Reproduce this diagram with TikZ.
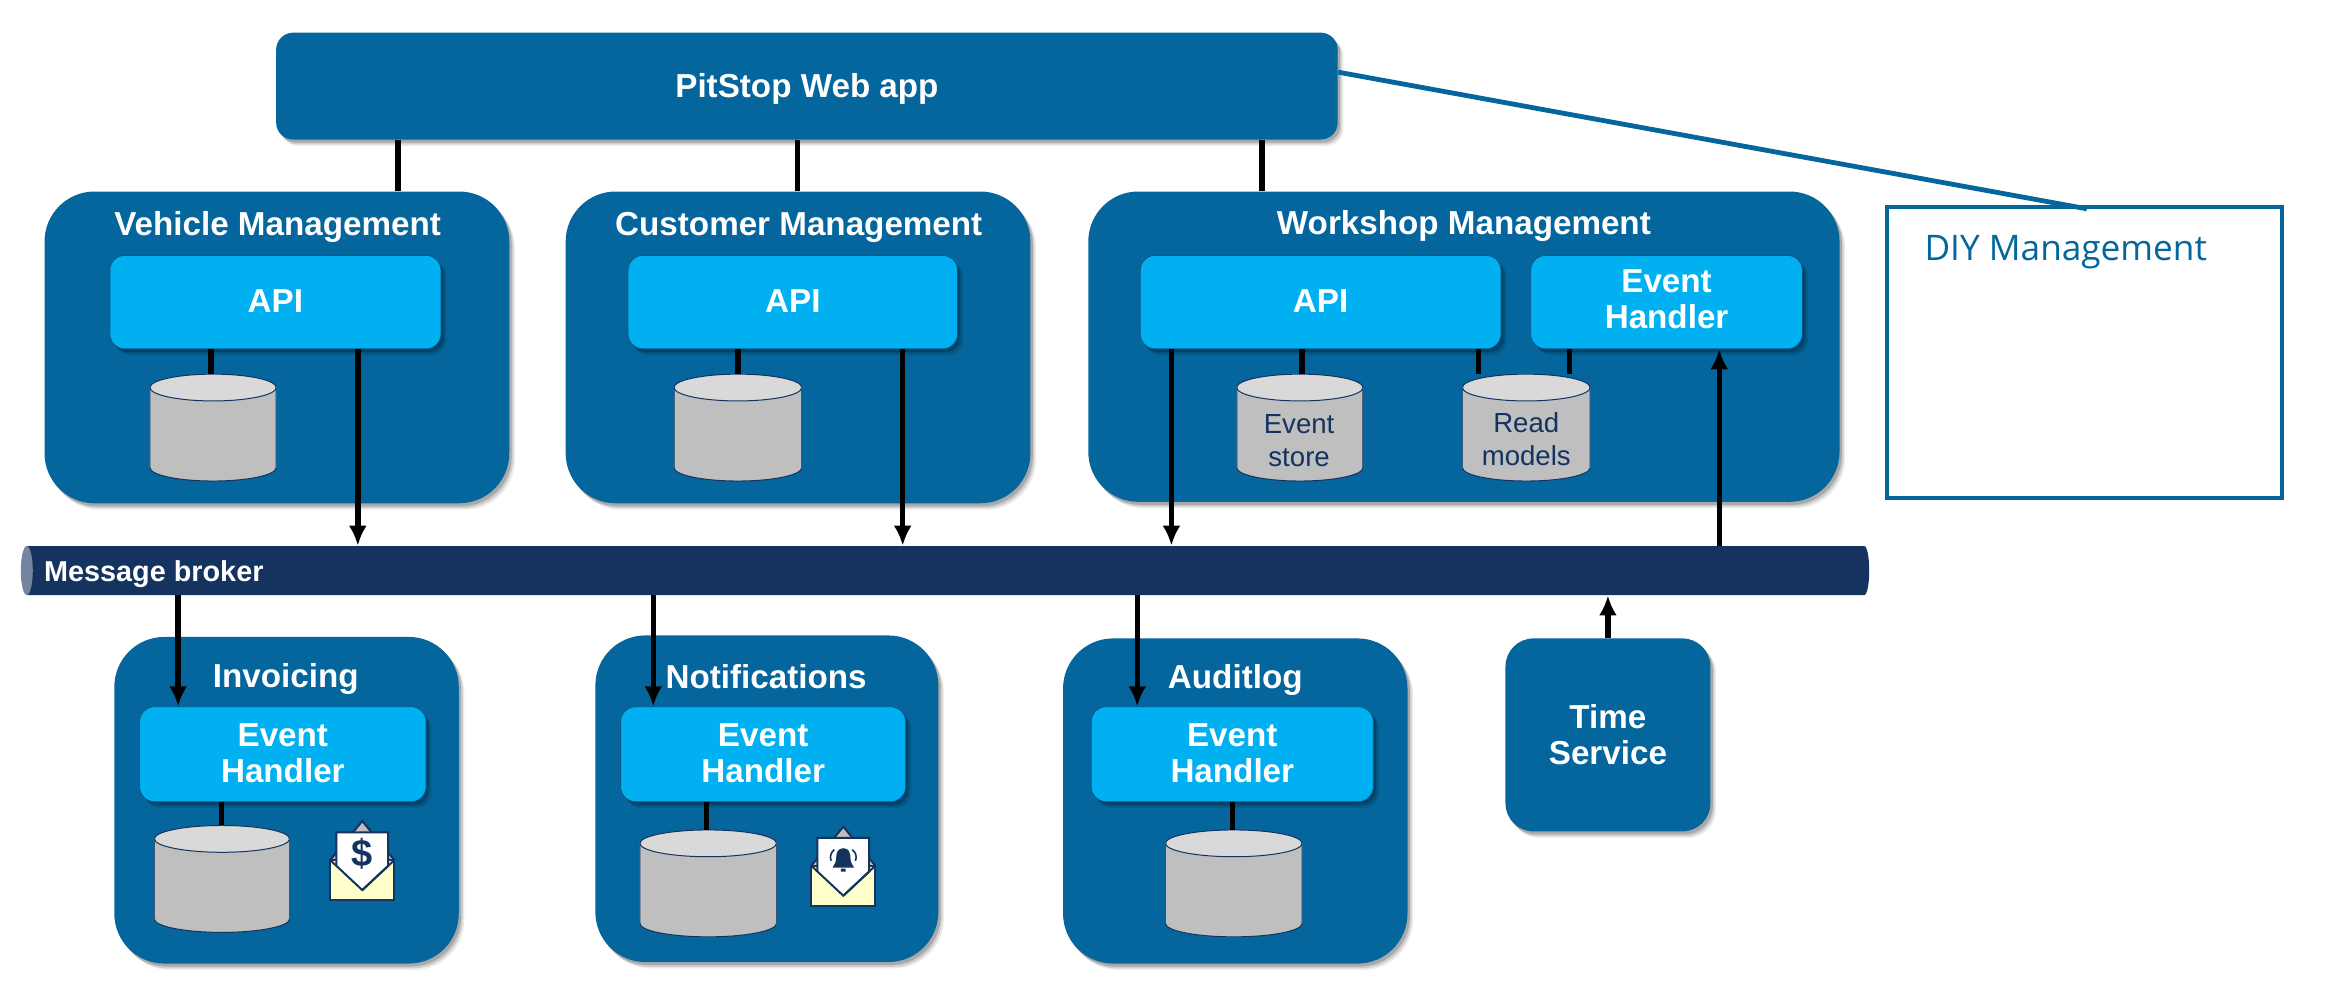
\documentclass[tikz,border=0pt]{standalone}
\usepackage{fontspec}
\setmainfont{Liberation Sans}
\newfontfamily\diyfont{Open Sans}
\usetikzlibrary{arrows.meta,shadows}
\definecolor{boxblue}{HTML}{04669C}
\definecolor{lightblue}{HTML}{00B0F0}
\definecolor{navy}{HTML}{14335F}
\definecolor{brokercap}{HTML}{73859F}
\definecolor{dbbody}{HTML}{BFBFBF}
\definecolor{dbend}{HTML}{D9D9D9}
\definecolor{mailcream}{HTML}{FFFFCC}
\tikzset{
	boxsize/.style 2 args={minimum width=#1*0.7423pt, minimum height=#2*0.7423pt},
	softshadow/.style={drop shadow={shadow xshift=2.8pt,shadow yshift=-3.2pt,opacity=.08,fill=black},
		drop shadow={shadow xshift=2pt,shadow yshift=-2.4pt,opacity=.12,fill=black},
		drop shadow={shadow xshift=1.2pt,shadow yshift=-1.5pt,opacity=.18,fill=black}},
	boxtext/.style={font=\fontsize{16.6}{18}\selectfont\bfseries, text=white, align=center},
	group/.style={rectangle, rounded corners=25pt, fill=boxblue, softshadow, inner sep=0pt},
	inner/.style={rectangle, rounded corners=7.5pt, fill=lightblue, draw=boxblue!70!navy, line width=.4pt, softshadow, inner sep=0pt, boxtext},
	title/.style={boxtext, inner sep=0pt},
	db/.style 2 args={rectangle, inner sep=0pt, boxsize={#1}{#2},
		path picture={
			\path[fill=dbbody, draw=navy, line width=.5pt] ([yshift=-6.7pt]path picture bounding box.north west) -- ([yshift=6.7pt]path picture bounding box.south west) arc[start angle=180, end angle=360, x radius=#1*0.37115pt, y radius=6.7pt] -- ([yshift=-6.7pt]path picture bounding box.north east) -- cycle;
			\path[fill=dbend, draw=navy, line width=.5pt] ([yshift=-6.7pt]path picture bounding box.north) ellipse [x radius=#1*0.37115pt, y radius=6.7pt];
		}},
	dbtext/.style={inner sep=0pt, align=center, text=navy, font=\fontsize{13.8}{16.5}\selectfont},
	link/.style={line width=2.7pt, black},
	mail/.pic={
		%flap, envelope and letter
		\draw[fill=dbbody, draw=navy, line width=1pt] (-21.6,26.3) -- (0,0) -- (21.6,26.3);
		\draw[fill=mailcream, draw=navy, line width=1pt] (-21.6,26.3) rectangle (21.6,53.5);
		\draw[fill=white, draw=navy, line width=1pt] (-17.4,30.3) -- (-17.4,7.6) -- (17.4,7.6) -- (17.4,30.3) -- (0,46.5);
		\draw[navy, line width=1pt] (-21.6,26.3) -- (0,46.5) -- (21.6,26.3);
	},
	>={Latex[length=10pt,width=9pt]}
}
\begin{document}
\begin{tikzpicture}[x=0.7423pt, y=-0.7423pt]
	\useasboundingbox (0,0) rectangle (1568,662.8);
	%top row
	\node[group, rounded corners=8.5pt, boxsize={715}{72}, boxtext, text height=15pt] (webapp) at (543.5,58) {PitStop Web app};
	\node[group, boxsize={313}{210}] (vehicle) at (186.5,234) {};
	\node[group, boxsize={313}{210}] (customer) at (537.5,234) {};
	\node[group, boxsize={506}{209}] (workshop) at (986,233.5) {};
	\node[title] (vehicletitle) at (187,153) {Vehicle Management};
	\node[title] (customertitle) at (538,153) {Customer Management};
	\node[title] (workshoptitle) at (986,152) {Workshop Management};
	\node[inner, boxsize={223}{63}, text depth=1.5pt] (vehicleapi) at (185.5,203.5) {API};
	\node[inner, boxsize={222}{63}, text depth=1.5pt] (customerapi) at (534,203.5) {API};
	\node[inner, boxsize={243}{63}, text depth=1.5pt] (workshopapi) at (889.5,203.5) {API};
	\node[inner, boxsize={183}{63}, text depth=3pt] (workshopevents) at (1122.5,203.5) {Event\\Handler};
	\node[db={85}{72}] (vehicledb) at (143.5,288) {};
	\node[db={86}{72}] (customerdb) at (497,288) {};
	\node[db={85}{72}] (eventstore) at (875.5,288) {};
	\node[db={86}{72}] (readmodels) at (1028,288) {};
	\node[dbtext] (eventstoretext) at (875,297) {Event\\store};
	\node[dbtext] (readmodelstext) at (1028,296) {Read\\models};
	%diy box
	\node[rectangle, draw=boxblue, line width=2.3pt, fill=white, boxsize={266}{196}] (diy) at (1404,237.5) {};
	\node[anchor=west, inner sep=0pt, text=boxblue, font=\diyfont\fontsize{17.6}{20}\selectfont] (diytitle) at (1296,170) {DIY Management};
	%message broker
	\node[rectangle, inner sep=0pt, boxsize={1245}{33},
		path picture={
			\fill[navy] ([xshift=3pt]path picture bounding box.north west) -- ([xshift=-2.5pt]path picture bounding box.north east) arc[start angle=90, end angle=-90, x radius=2.5pt, y radius=12.25pt] -- ([xshift=3pt]path picture bounding box.south west) -- cycle;
			\fill[brokercap] ([xshift=3pt]path picture bounding box.west) ellipse [x radius=3pt, y radius=12.25pt];
		}] (broker) at (636.5,384.3) {};
	\node[anchor=west, inner sep=0pt, font=\fontsize{14.4}{16}\selectfont\bfseries, text=white] (brokertitle) at (29.5,386.5) {Message broker};
	%bottom row
	\node[group, boxsize={232}{220}] (invoicing) at (193,539) {};
	\node[group, boxsize={231}{220}] (notifications) at (516.5,538) {};
	\node[group, boxsize={232}{219}] (auditlog) at (832,539.5) {};
	\node[group, rounded corners=14pt, boxsize={138}{130}, boxtext] (timeservice) at (1083,495) {Time\\Service};
	\node[title] (invoicingtitle) at (192.5,457) {Invoicing};
	\node[title] (notificationstitle) at (516,455.5) {Notifications};
	\node[title] (auditlogtitle) at (832,458) {Auditlog};
	\node[inner, boxsize={193}{64}, text depth=1.5pt] (invoicingevents) at (190.5,508) {Event\\Handler};
	\node[inner, boxsize={192}{64}, text depth=1.5pt] (notificationsevents) at (514,508) {Event\\Handler};
	\node[inner, boxsize={190}{64}, text depth=1.5pt] (auditlogevents) at (830,508) {Event\\Handler};
	\node[db={91}{72}] (invoicingdb) at (149.5,592) {};
	\node[db={92}{72}] (notificationsdb) at (477,595) {};
	\node[db={92}{72}] (auditlogdb) at (831,595) {};
	%mail icons
	\pic (invoicingmail) at (244,553) {mail};
	\node[inner sep=0pt, text=navy, font=\fontsize{19}{19}\selectfont\bfseries] (dollar) at (244,575) {\$};
	\pic (notificationsmail) at (568,556.8) {mail};
	\fill[navy, shift={(568,556.8)}] (0,14.5) .. controls (-4,14.5) and (-4.8,18) .. (-4.8,21) .. controls (-4.8,24) and (-6,25.5) .. (-7.2,27.5) -- (7.2,27.5) .. controls (6,25.5) and (4.8,24) .. (4.8,21) .. controls (4.8,18) and (4,14.5) .. (0,14.5) (-1.6,28.3) rectangle (1.6,30.3);
	\draw[navy, line width=.8pt, shift={(568,556.8)}] (-8.2,23) .. controls (-9.4,20) and (-8.2,17) .. (-6,15.5) (8.2,23) .. controls (9.4,20) and (8.2,17) .. (6,15.5);
	%web app links
	\draw[link] (webapp.south -| 268,0) -- (vehicle.north -| 268,0);
	\draw[link] (webapp.south -| 537,0) -- (customer.north -| 537,0);
	\draw[link] (webapp.south -| 850,0) -- (workshop.north -| 850,0);
	\draw[boxblue, line width=2.4pt] (webapp.east |- 0,48.6) -- ([yshift=-2pt]diy.north -| 1405.6,0);
	%database links
	\draw[link] (vehicleapi.south -| 142,0) -- (vehicledb.north -| 142,0);
	\draw[link] (customerapi.south -| 497,0) -- (customerdb.north -| 497,0);
	\draw[link] (workshopapi.south -| 877,0) -- (eventstore.north -| 877,0);
	\draw[link] (workshopapi.south -| 996,0) -- (readmodels.north -| 996,0);
	\draw[link] (workshopevents.south -| 1057,0) -- (readmodels.north -| 1057,0);
	\draw[link] (invoicingevents.south -| 149,0) -- (invoicingdb.north -| 149,0);
	\draw[link] (notificationsevents.south -| 476,0) -- (notificationsdb.north -| 476,0);
	\draw[link] (auditlogevents.south -| 830,0) -- (auditlogdb.north -| 830,0);
	%broker links
	\draw[link, ->] (vehicleapi.south -| 241,0) -- (broker.north -| 241,0);
	\draw[link, ->] (customerapi.south -| 608,0) -- (broker.north -| 608,0);
	\draw[link, ->] (workshopapi.south -| 789,0) -- (broker.north -| 789,0);
	\draw[link, ->] (broker.north -| 1158,0) -- (workshopevents.south -| 1158,0);
	\draw[link, ->] (broker.south -| 120,0) -- (invoicingevents.north -| 120,0);
	\draw[link, ->] (broker.south -| 440,0) -- (notificationsevents.north -| 440,0);
	\draw[link, ->] (broker.south -| 766,0) -- (auditlogevents.north -| 766,0);
	\draw[link, ->] (timeservice.north) -- (broker.south -| timeservice.north);
\end{tikzpicture}
\end{document}
